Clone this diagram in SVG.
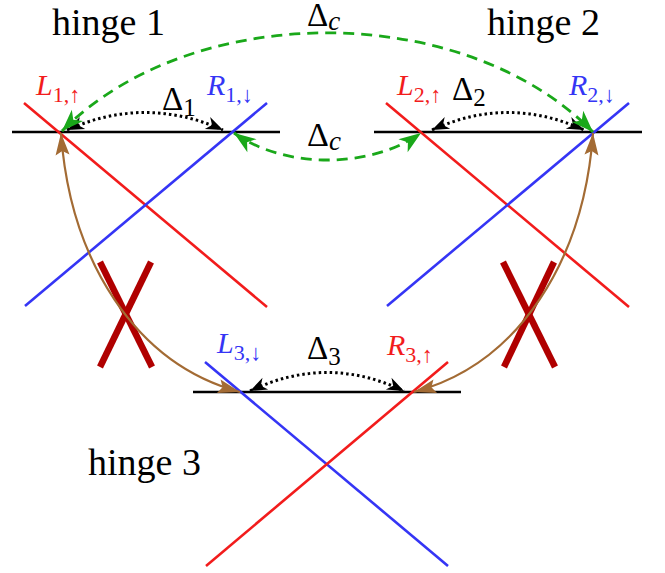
<svg xmlns="http://www.w3.org/2000/svg" width="665" height="573" viewBox="0 0 665 573">
<style>
.base{stroke:#000;stroke-width:2.6;fill:none}
.red{stroke:#f21c1c;stroke-width:2.6;fill:none}
.blue{stroke:#3535f5;stroke-width:2.6;fill:none}
.dot{stroke:#000;stroke-width:3;stroke-dasharray:2.5 3;fill:none}
.green{stroke:#1aa81a;stroke-width:2.8;stroke-dasharray:11 7;fill:none}
.brown{stroke:#a36b34;stroke-width:2.2;fill:none}
.cross{stroke:#b00000;stroke-width:6.5;fill:none}
</style>
<defs>
<marker id="ab" viewBox="-20 -9 22 18" markerWidth="22" markerHeight="18" refX="0" refY="0" orient="auto-start-reverse" markerUnits="userSpaceOnUse">
<path d="M0,0 L-17,-6.5 L-12,0 L-17,6.5 Z" fill="#000"/>
</marker>
<marker id="ag" viewBox="-24 -10 26 20" markerWidth="26" markerHeight="20" refX="0" refY="0" orient="auto-start-reverse" markerUnits="userSpaceOnUse">
<path d="M0,0 L-22,-8 L-16,0 L-22,8 Z" fill="#1aa81a"/>
</marker>
<marker id="abr" viewBox="-24 -9 26 18" markerWidth="26" markerHeight="18" refX="0" refY="0" orient="auto-start-reverse" markerUnits="userSpaceOnUse">
<path d="M0,0 L-22,-7 L-18,0 L-22,7 Z" fill="#a36b34"/>
</marker>
</defs>

<g id="hinge1" font-family="Liberation Serif, serif">
<line class="base" x1="12" y1="132" x2="280" y2="132"/>
<line class="red" x1="24" y1="103" x2="267" y2="307"/>
<line class="blue" x1="25" y1="306" x2="267" y2="103"/>
<text x="52" y="35" font-size="38">hinge 1</text>
<text x="36" y="95" fill="#f21c1c" font-size="30"><tspan font-style="italic">L</tspan><tspan font-size="22" dy="7">1,↑</tspan></text>
<text x="207" y="95" fill="#3535f5" font-size="30"><tspan font-style="italic">R</tspan><tspan font-size="22" dy="7">1,↓</tspan></text>
<text x="162" y="110" font-size="33">Δ<tspan font-size="25" dy="6">1</tspan></text>
</g>

<g id="hinge2" font-family="Liberation Serif, serif">
<line class="base" x1="374" y1="132" x2="642" y2="132"/>
<line class="red" x1="386" y1="103" x2="629" y2="307"/>
<line class="blue" x1="387" y1="306" x2="629" y2="103"/>
<text x="487" y="35" font-size="38">hinge 2</text>
<text x="397" y="95" fill="#f21c1c" font-size="30"><tspan font-style="italic">L</tspan><tspan font-size="22" dy="7">2,↑</tspan></text>
<text x="569" y="95" fill="#3535f5" font-size="30"><tspan font-style="italic">R</tspan><tspan font-size="22" dy="7">2,↓</tspan></text>
<text x="452" y="100" font-size="33">Δ<tspan font-size="25" dy="6">2</tspan></text>
</g>

<g id="hinge3" font-family="Liberation Serif, serif">
<line class="base" x1="193" y1="392" x2="461" y2="392"/>
<line class="blue" x1="205" y1="362" x2="448" y2="566"/>
<line class="red" x1="206" y1="566" x2="448" y2="362"/>
<text x="88" y="475" font-size="38">hinge 3</text>
<text x="217" y="353" fill="#3535f5" font-size="30"><tspan font-style="italic">L</tspan><tspan font-size="22" dy="7">3,↓</tspan></text>
<text x="387" y="355" fill="#f21c1c" font-size="30"><tspan font-style="italic">R</tspan><tspan font-size="22" dy="7">3,↑</tspan></text>
<text x="307" y="359" font-size="33">Δ<tspan font-size="25" dy="6">3</tspan></text>
</g>

<g id="crosses">
<line class="cross" x1="100" y1="262" x2="152" y2="367"/>
<line class="cross" x1="151" y1="262" x2="100" y2="367"/>
<line class="cross" x1="503" y1="262" x2="555" y2="367"/>
<line class="cross" x1="554" y1="262" x2="504" y2="367"/>
</g>

<g id="connectors" font-family="Liberation Serif, serif">
<path class="dot" d="M67,130 Q145,95 223,130" marker-start="url(#ab)" marker-end="url(#ab)"/>
<path class="dot" d="M432,130 Q508,95 584,130" marker-start="url(#ab)" marker-end="url(#ab)"/>
<path class="dot" d="M250,391 Q327,354 404,391" marker-start="url(#ab)" marker-end="url(#ab)"/>
<path class="green" d="M62,131 C192,0 463,0 593,132" marker-start="url(#ag)" marker-end="url(#ag)"/>
<path class="green" d="M234,133 C285,169 370,169 421,133" marker-start="url(#ag)" marker-end="url(#ag)"/>
<path class="brown" d="M61,133 C70,260 135,364 240,392" marker-start="url(#abr)" marker-end="url(#abr)"/>
<path class="brown" d="M593,133 C584,260 519,364 414,392" marker-start="url(#abr)" marker-end="url(#abr)"/>
<text x="307" y="26" font-size="33">Δ<tspan font-style="italic" font-size="27" dy="4">c</tspan></text>
<text x="307" y="146" font-size="34">Δ<tspan font-style="italic" font-size="27" dy="4">c</tspan></text>
</g>
</svg>
